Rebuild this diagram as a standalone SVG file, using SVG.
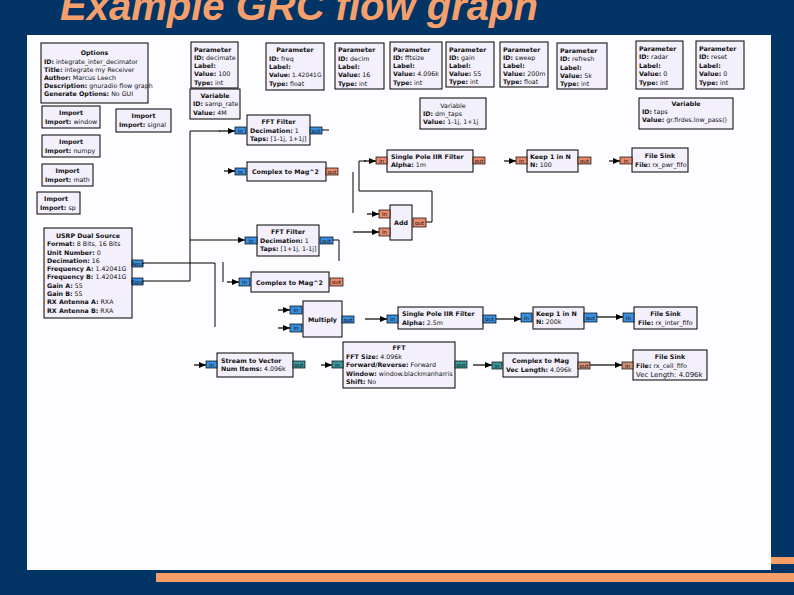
<svg xmlns="http://www.w3.org/2000/svg" width="794" height="595" viewBox="0 0 794 595">
<style>
.bg{fill:#023466}
.paper{fill:#fdfcff}
.bar{fill:#f79d68}
.title{font-family:"Liberation Sans",Arial,sans-serif;font-size:40px;font-weight:bold;font-style:italic;fill:#f5a06c}
.box{fill:#f3f0fc;stroke:#000;stroke-width:1}
.t{font-family:"DejaVu Sans",sans-serif;font-size:6.3px;fill:#111}
.b{font-weight:bold}
.c{text-anchor:middle}
.pc{fill:#3a8ede;stroke:#000;stroke-width:0.7}
.pf{fill:#ea8a6c;stroke:#000;stroke-width:0.7}
.pv{fill:#3d9a9c;stroke:#000;stroke-width:0.7}
.pt{fill:#cf9174;stroke:#000;stroke-width:0.7}
.pl{font-family:"DejaVu Sans",sans-serif;font-size:5.5px;fill:#101010;text-anchor:middle}
.w{stroke:#000;stroke-width:1;fill:none}
.a{stroke:#000;stroke-width:1.2;fill:none;marker-end:url(#ah)}
</style>
<defs>
<marker id="ah" markerWidth="7" markerHeight="6" refX="7" refY="3" orient="auto" markerUnits="userSpaceOnUse">
<path d="M0,0 L7,3 L0,6 z" fill="#000"/>
</marker>
</defs>
<rect class="bg" x="0" y="0" width="794" height="595"/>
<text class="title" x="60" y="20">Example GRC flow graph</text>
<rect class="paper" x="27" y="35" width="744" height="535"/>
<rect class="bar" x="156" y="573" width="638" height="9"/>
<rect class="bar" x="771" y="557" width="23" height="7"/>

<g id="options">
<rect class="box" x="41" y="43" width="107" height="60"/>
<text class="t b c" x="94.5" y="55">Options</text>
<text class="t" x="44" y="63.5"><tspan class="b">ID:</tspan> integrate_inter_decimator</text>
<text class="t" x="44" y="71.5"><tspan class="b">Title:</tspan> integrate my Receiver</text>
<text class="t" x="44" y="79.5"><tspan class="b">Author:</tspan> Marcus Leech</text>
<text class="t" x="44" y="88"><tspan class="b">Description:</tspan> gnuradio flow graph</text>
<text class="t" x="44" y="96"><tspan class="b">Generate Options:</tspan> No GUI</text>
</g>

<g id="param_decimate">
<rect class="box" x="191" y="42" width="47" height="46"/>
<text class="t b" x="194" y="51.5">Parameter</text>
<text class="t" x="194" y="59.5"><tspan class="b">ID:</tspan> decimate</text>
<text class="t b" x="194" y="68">Label:</text>
<text class="t" x="194" y="76"><tspan class="b">Value:</tspan> 100</text>
<text class="t" x="194" y="84.5"><tspan class="b">Type:</tspan> int</text>
</g>
<g id="param_freq">
<rect class="box" x="266" y="43" width="58" height="47"/>
<text class="t b c" x="295" y="52">Parameter</text>
<text class="t" x="269" y="60.5"><tspan class="b">ID:</tspan> freq</text>
<text class="t b" x="269" y="69">Label:</text>
<text class="t" x="269" y="77" style="font-size:6px"><tspan class="b">Value:</tspan> 1.42041G</text>
<text class="t" x="269" y="85.5"><tspan class="b">Type:</tspan> float</text>
</g>
<g id="param_decim">
<rect class="box" x="335" y="43" width="49" height="46"/>
<text class="t b" x="338" y="52">Parameter</text>
<text class="t" x="338" y="60.5"><tspan class="b">ID:</tspan> decim</text>
<text class="t b" x="338" y="69">Label:</text>
<text class="t" x="338" y="77"><tspan class="b">Value:</tspan> 16</text>
<text class="t" x="338" y="85.5"><tspan class="b">Type:</tspan> int</text>
</g>
<g id="param_fftsize">
<rect class="box" x="390" y="42" width="52" height="47"/>
<text class="t b" x="393" y="51.5">Parameter</text>
<text class="t" x="393" y="59.5"><tspan class="b">ID:</tspan> fftsize</text>
<text class="t b" x="393" y="68">Label:</text>
<text class="t" x="393" y="76"><tspan class="b">Value:</tspan> 4.096k</text>
<text class="t" x="393" y="84.5"><tspan class="b">Type:</tspan> int</text>
</g>
<g id="param_gain">
<rect class="box" x="446" y="42" width="48" height="45"/>
<text class="t b" x="449" y="51.5">Parameter</text>
<text class="t" x="449" y="59.5"><tspan class="b">ID:</tspan> gain</text>
<text class="t b" x="449" y="68">Label:</text>
<text class="t" x="449" y="76"><tspan class="b">Value:</tspan> 55</text>
<text class="t" x="449" y="84"><tspan class="b">Type:</tspan> int</text>
</g>
<g id="param_sweep">
<rect class="box" x="500" y="42" width="48" height="45"/>
<text class="t b" x="503" y="51.5">Parameter</text>
<text class="t" x="503" y="59.5"><tspan class="b">ID:</tspan> sweep</text>
<text class="t b" x="503" y="68">Label:</text>
<text class="t" x="503" y="76"><tspan class="b">Value:</tspan> 200m</text>
<text class="t" x="503" y="84"><tspan class="b">Type:</tspan> float</text>
</g>
<g id="param_refresh">
<rect class="box" x="557" y="43" width="50" height="46"/>
<text class="t b" x="560" y="53">Parameter</text>
<text class="t" x="560" y="61"><tspan class="b">ID:</tspan> refresh</text>
<text class="t b" x="560" y="69.5">Label:</text>
<text class="t" x="560" y="78"><tspan class="b">Value:</tspan> 5k</text>
<text class="t" x="560" y="86"><tspan class="b">Type:</tspan> int</text>
</g>
<g id="param_radar">
<rect class="box" x="636" y="41" width="47" height="48"/>
<text class="t b" x="639" y="50.5">Parameter</text>
<text class="t" x="639" y="59"><tspan class="b">ID:</tspan> radar</text>
<text class="t b" x="639" y="67.5">Label:</text>
<text class="t" x="639" y="76"><tspan class="b">Value:</tspan> 0</text>
<text class="t" x="639" y="85"><tspan class="b">Type:</tspan> int</text>
</g>
<g id="param_reset">
<rect class="box" x="696" y="41" width="48" height="48"/>
<text class="t b" x="699" y="50.5">Parameter</text>
<text class="t" x="699" y="59"><tspan class="b">ID:</tspan> reset</text>
<text class="t b" x="699" y="67.5">Label:</text>
<text class="t" x="699" y="76"><tspan class="b">Value:</tspan> 0</text>
<text class="t" x="699" y="85"><tspan class="b">Type:</tspan> int</text>
</g>

<g id="var_samp_rate">
<rect class="box" x="190" y="89" width="50" height="30"/>
<text class="t b c" x="215" y="98">Variable</text>
<text class="t" x="193" y="106"><tspan class="b">ID:</tspan> samp_rate</text>
<text class="t" x="193" y="114.5"><tspan class="b">Value:</tspan> 4M</text>
</g>
<g id="var_dm_taps">
<rect class="box" x="420" y="98" width="66" height="31"/>
<text class="t c" x="453" y="108">Variable</text>
<text class="t" x="423" y="116"><tspan class="b">ID:</tspan> dm_taps</text>
<text class="t" x="423" y="124"><tspan class="b">Value:</tspan> 1-1j, 1+1j</text>
</g>
<g id="var_taps">
<rect class="box" x="639" y="98" width="94" height="31"/>
<text class="t b c" x="686" y="106">Variable</text>
<text class="t" x="642" y="114"><tspan class="b">ID:</tspan> taps</text>
<text class="t" x="642" y="122"><tspan class="b">Value:</tspan> gr.firdes.low_pass()</text>
</g>

<g id="import_window">
<rect class="box" x="42" y="106" width="58" height="22"/>
<text class="t b c" x="71" y="115">Import</text>
<text class="t" x="45" y="123.5"><tspan class="b">Import:</tspan> window</text>
</g>
<g id="import_signal">
<rect class="box" x="116" y="109" width="55" height="23"/>
<text class="t b c" x="143.5" y="118">Import</text>
<text class="t" x="119" y="126.5"><tspan class="b">Import:</tspan> signal</text>
</g>
<g id="import_numpy">
<rect class="box" x="42" y="135" width="58" height="22"/>
<text class="t b c" x="71" y="144">Import</text>
<text class="t" x="45" y="152.5"><tspan class="b">Import:</tspan> numpy</text>
</g>
<g id="import_math">
<rect class="box" x="42" y="164" width="51" height="22"/>
<text class="t b c" x="67.5" y="173">Import</text>
<text class="t" x="45" y="181.5"><tspan class="b">Import:</tspan> math</text>
</g>
<g id="import_sp">
<rect class="box" x="37" y="192" width="43" height="22"/>
<text class="t b c" x="56" y="201">Import</text>
<text class="t" x="40" y="209.5"><tspan class="b">Import:</tspan> sp</text>
</g>

<g id="usrp_dual_source">
<rect class="box" x="44" y="228" width="88" height="90"/>
<text class="t b c" x="88" y="238">USRP Dual Source</text>
<text class="t" x="47" y="246"><tspan class="b">Format:</tspan> 8 Bits, 16 Bits</text>
<text class="t" x="47" y="254.5"><tspan class="b">Unit Number:</tspan> 0</text>
<text class="t" x="47" y="262.5"><tspan class="b">Decimation:</tspan> 16</text>
<text class="t" x="47" y="271"><tspan class="b">Frequency A:</tspan> 1.42041G</text>
<text class="t" x="47" y="279"><tspan class="b">Frequency B:</tspan> 1.42041G</text>
<text class="t" x="47" y="287.5"><tspan class="b">Gain A:</tspan> 55</text>
<text class="t" x="47" y="295.5"><tspan class="b">Gain B:</tspan> 55</text>
<text class="t" x="47" y="304"><tspan class="b">RX Antenna A:</tspan> RXA</text>
<text class="t" x="47" y="312.5"><tspan class="b">RX Antenna B:</tspan> RXA</text>
<rect class="pc" x="132" y="260" width="11" height="7"/>
<text class="pl" x="137.5" y="265.5">Aout</text>
<rect class="pc" x="132" y="278" width="11" height="7"/>
<text class="pl" x="137.5" y="283.5">Bout</text>
</g>

<g id="fft_filter_1">
<rect class="box" x="247" y="115" width="63" height="30"/>
<text class="t b c" x="278.5" y="124">FFT Filter</text>
<text class="t" x="250" y="132.5"><tspan class="b">Decimation:</tspan> 1</text>
<text class="t" x="250" y="141"><tspan class="b">Taps:</tspan> [1-1j, 1+1j]</text>
<rect class="pc" x="235" y="127" width="11" height="7"/>
<text class="pl" x="240.5" y="132.5">in</text>
<rect class="pc" x="310" y="127" width="12" height="7"/>
<text class="pl" x="316" y="132.5">out</text>
</g>
<g id="complex_to_mag2_1">
<rect class="box" x="247" y="162" width="79" height="19"/>
<text class="t b" x="252" y="174">Complex to Mag^2</text>
<rect class="pc" x="235" y="168" width="11" height="7"/>
<text class="pl" x="240.5" y="173.5">in</text>
<rect class="pf" x="326" y="168" width="12" height="7"/>
<text class="pl" x="332" y="173.5">out</text>
</g>
<g id="single_pole_iir_1">
<rect class="box" x="387" y="150" width="86" height="22"/>
<text class="t b" x="391" y="158.5">Single Pole IIR Filter</text>
<text class="t" x="391" y="167"><tspan class="b">Alpha:</tspan> 1m</text>
<rect class="pf" x="376" y="157" width="11" height="7"/>
<text class="pl" x="381.5" y="162.5">in</text>
<rect class="pf" x="473" y="157" width="12" height="7"/>
<text class="pl" x="479" y="162.5">out</text>
</g>
<g id="keep_1_in_n_1">
<rect class="box" x="527" y="150" width="51" height="22"/>
<text class="t b" x="530" y="158.5">Keep 1 in N</text>
<text class="t" x="530" y="167"><tspan class="b">N:</tspan> 100</text>
<rect class="pf" x="516" y="157" width="11" height="7"/>
<text class="pl" x="521.5" y="162.5">in</text>
<rect class="pf" x="578" y="157" width="13" height="7"/>
<text class="pl" x="584.5" y="162.5">out</text>
</g>
<g id="file_sink_1">
<rect class="box" x="632" y="148" width="56" height="24"/>
<text class="t b c" x="660" y="158">File Sink</text>
<text class="t" x="635" y="167"><tspan class="b">File:</tspan> rx_pwr_fifo</text>
<rect class="pf" x="620" y="157" width="12" height="7"/>
<text class="pl" x="626" y="162.5">in</text>
</g>
<g id="add">
<rect class="box" x="390" y="205" width="22" height="35"/>
<text class="t b c" x="401" y="225">Add</text>
<rect class="pf" x="379" y="210" width="11" height="8"/>
<text class="pl" x="384.5" y="216">in</text>
<rect class="pf" x="379" y="228" width="11" height="8"/>
<text class="pl" x="384.5" y="234">in</text>
<rect class="pf" x="413" y="218" width="13" height="9"/>
<text class="pl" x="419.5" y="224.5">out</text>
</g>
<g id="fft_filter_2">
<rect class="box" x="257" y="225" width="62" height="31"/>
<text class="t b c" x="288" y="234">FFT Filter</text>
<text class="t" x="260" y="242.5"><tspan class="b">Decimation:</tspan> 1</text>
<text class="t" x="260" y="251"><tspan class="b">Taps:</tspan> [1+1j, 1-1j]</text>
<rect class="pc" x="245" y="237" width="12" height="7"/>
<text class="pl" x="251" y="242.5">in</text>
<rect class="pc" x="320" y="237" width="13" height="7"/>
<text class="pl" x="326.5" y="242.5">out</text>
</g>
<g id="complex_to_mag2_2">
<rect class="box" x="251" y="272" width="78" height="20"/>
<text class="t b" x="256" y="284.5">Complex to Mag^2</text>
<rect class="pc" x="239" y="278" width="11" height="8"/>
<text class="pl" x="244.5" y="284">in</text>
<rect class="pf" x="330" y="278" width="13" height="8"/>
<text class="pl" x="336.5" y="284">out</text>
</g>
<g id="multiply">
<rect class="box" x="303" y="301" width="39" height="36"/>
<text class="t b c" x="322.5" y="321.5">Multiply</text>
<rect class="pc" x="290" y="306" width="12" height="8"/>
<text class="pl" x="296" y="312">in</text>
<rect class="pc" x="290" y="324" width="12" height="8"/>
<text class="pl" x="296" y="330">in</text>
<rect class="pc" x="342" y="316" width="12" height="7"/>
<text class="pl" x="348" y="321.5">out</text>
</g>
<g id="single_pole_iir_2">
<rect class="box" x="398" y="307" width="85" height="22"/>
<text class="t b" x="402" y="316">Single Pole IIR Filter</text>
<text class="t" x="402" y="324.5"><tspan class="b">Alpha:</tspan> 2.5m</text>
<rect class="pc" x="387" y="315" width="11" height="8"/>
<text class="pl" x="392.5" y="321">in</text>
<rect class="pc" x="483" y="315" width="13" height="8"/>
<text class="pl" x="489.5" y="321">out</text>
</g>
<g id="keep_1_in_n_2">
<rect class="box" x="533" y="307" width="51" height="22"/>
<text class="t b" x="536" y="315.5">Keep 1 in N</text>
<text class="t" x="536" y="324"><tspan class="b">N:</tspan> 200k</text>
<rect class="pc" x="521" y="313" width="11" height="9"/>
<text class="pl" x="526.5" y="319.5">in</text>
<rect class="pc" x="584" y="313" width="13" height="9"/>
<text class="pl" x="590.5" y="319.5">out</text>
</g>
<g id="file_sink_2">
<rect class="box" x="634" y="307" width="63" height="22"/>
<text class="t b c" x="665.5" y="316">File Sink</text>
<text class="t" x="638" y="324.5"><tspan class="b">File:</tspan> rx_inter_fifo</text>
<rect class="pc" x="623" y="313" width="11" height="9"/>
<text class="pl" x="628.5" y="319.5">in</text>
</g>
<g id="stream_to_vector">
<rect class="box" x="217" y="353" width="76" height="24"/>
<text class="t b" x="221" y="363">Stream to Vector</text>
<text class="t" x="221" y="371"><tspan class="b">Num Items:</tspan> 4.096k</text>
<rect class="pc" x="206" y="361" width="11" height="7"/>
<text class="pl" x="211.5" y="366.5">in</text>
<rect class="pv" x="293" y="361" width="12" height="7"/>
<text class="pl" x="299" y="366.5">out</text>
</g>
<g id="fft">
<rect class="box" x="343" y="342" width="112" height="46"/>
<text class="t b c" x="399" y="350">FFT</text>
<text class="t" x="346" y="358.5"><tspan class="b">FFT Size:</tspan> 4.096k</text>
<text class="t" x="346" y="367"><tspan class="b">Forward/Reverse:</tspan> Forward</text>
<text class="t" x="346" y="375.5"><tspan class="b">Window:</tspan> window.blackmanharris</text>
<text class="t" x="346" y="384"><tspan class="b">Shift:</tspan> No</text>
<rect class="pv" x="332" y="361" width="11" height="7"/>
<text class="pl" x="337.5" y="366.5">in</text>
<rect class="pv" x="455" y="361" width="12" height="7"/>
<text class="pl" x="461" y="366.5">out</text>
</g>
<g id="complex_to_mag">
<rect class="box" x="503" y="353" width="75" height="24"/>
<text class="t b c" x="540.5" y="363">Complex to Mag</text>
<text class="t" x="506" y="371.5"><tspan class="b">Vec Length:</tspan> 4.096k</text>
<rect class="pv" x="492" y="362" width="10" height="7"/>
<text class="pl" x="497" y="367.5">in</text>
<rect class="pt" x="578" y="362" width="12" height="7"/>
<text class="pl" x="584" y="367.5">out</text>
</g>
<g id="file_sink_3">
<rect class="box" x="633" y="350" width="74" height="30"/>
<text class="t b c" x="670" y="359">File Sink</text>
<text class="t" x="636" y="367.5"><tspan class="b">File:</tspan> rx_cell_fifo</text>
<text class="t" x="636" y="376.5" style="font-size:6.9px">Vec Length: 4.096k</text>
<rect class="pt" x="622" y="362" width="11" height="7"/>
<text class="pl" x="627.5" y="367.5">in</text>
</g>

<g id="connectors">
<path class="w" d="M143,281 H190 V131 H220"/>
<path class="a" d="M219,131 H235"/>
<path class="a" d="M190,240 H245"/>
<path class="w" d="M143,263 H215 V327"/>
<path class="w" d="M223,262 V282"/>
<path class="w" d="M322,130 H329"/>
<path class="w" d="M333,240 H339 V261"/>
<path class="w" d="M353,172 V213"/>
<path class="a" d="M353,232 H379"/>
<path class="w" d="M426,222 H432 V191 H359 V161 H366"/>
<path class="a" d="M364,161 H376"/>
<path class="a" d="M365,319 H387"/>
<path class="a" d="M496,319 H521"/>
<path class="a" d="M597,317 H623"/>
<path class="a" d="M473,365 H492"/>
<path class="a" d="M590,365 H622"/>
<path class="a" d="M224,171 H235"/>
<path class="a" d="M504,161 H516"/>
<path class="a" d="M609,161 H620"/>
<path class="a" d="M367,214 H379"/>
<path class="a" d="M227,282 H239"/>
<path class="a" d="M278,310 H290"/>
<path class="a" d="M278,328 H290"/>
<path class="a" d="M194,365 H206"/>
<path class="a" d="M321,365 H332"/>
</g>
</svg>
